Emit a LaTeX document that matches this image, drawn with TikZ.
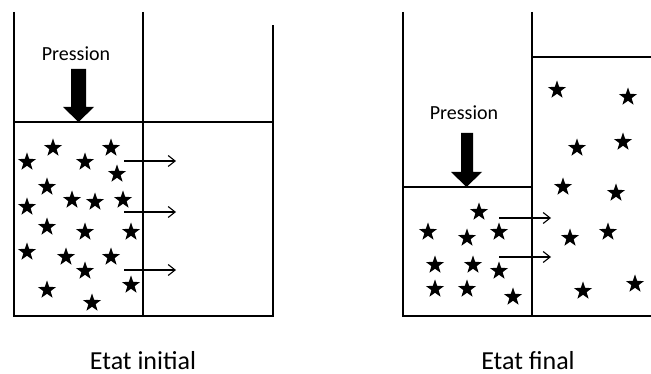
\documentclass[tikz,border=0pt]{standalone}
\usepackage{fontspec}
\setmainfont{Carlito}
\usepackage{tikz}
\usetikzlibrary{shapes.geometric, arrows.meta, positioning}

\begin{document}
\begin{tikzpicture}[
    x=1pt, y=-1pt,
    wall/.style={line width=1.6pt},
    molec/.style={star, star points=5, star point ratio=2.5, fill=black, inner sep=0pt, minimum size=19pt},
    flux/.style={-{Straight Barb[length=7pt, width=11pt]}, line width=1.1pt},
    lab/.style={font=\fontsize{20}{24}\selectfont},
    title/.style={anchor=base, inner sep=0pt, font=\fontsize{26}{30}\selectfont}
]
    \useasboundingbox (0,0) rectangle (651,374);

    % etat initial
    \draw[wall] (14,12) -- (14,316) -- (273,316) -- (273,25);
    \draw[wall] (143,12) -- (143,316);
    \draw[wall] (14,122) -- (273,122);
    \node[lab] (p1) at (76,54) {Pression};
    \fill (71,69) -- (86,69) -- (86,107) -- (94,107) -- (78.5,122) -- (63,107) -- (71,107) -- cycle;
    \foreach \x/\y [count=\i] in {27/162, 53/148, 85/162, 111/148, 117/174, 47/187, 27/207, 72/200,
        95/202, 123/200, 47/227, 85/232, 131/232, 27/252, 66/257, 111/257, 85/271, 131/285, 47/290, 92/303}
        \node[molec] (a\i) at (\x,\y) {};
    \foreach \y [count=\i] in {161, 212, 270} {
        \coordinate (s\i) at (124,\y);
        \coordinate (t\i) at (176,\y);
        \draw[flux] (s\i) -- (t\i);
    }
    \node[title] (e1) at (143,369) {Etat initial};

    % etat final
    \draw[wall] (403,12) -- (403,316) -- (651,316);
    \draw[wall] (532,12) -- (532,316);
    \draw[wall] (403,187) -- (532,187);
    \draw[wall] (532,57) -- (651,57);
    \node[lab] (p2) at (464,113) {Pression};
    \fill (461,133) -- (473,133) -- (473,172) -- (482,172) -- (466.5,187) -- (451,172) -- (461,172) -- cycle;
    \foreach \x/\y [count=\i] in {479/212, 428/232, 467/238, 499/232, 435/265, 473/265, 499/271, 435/289,
        467/289, 513/297, 557/90, 628/97, 577/148, 623/142, 563/187, 616/193, 570/238, 608/232, 583/291, 635/284}
        \node[molec] (b\i) at (\x,\y) {};
    \foreach \y [count=\i] in {218, 257} {
        \coordinate (u\i) at (499,\y);
        \coordinate (v\i) at (551,\y);
        \draw[flux] (u\i) -- (v\i);
    }
    \node[title] (e2) at (528,369) {Etat final};
\end{tikzpicture}
\end{document}
